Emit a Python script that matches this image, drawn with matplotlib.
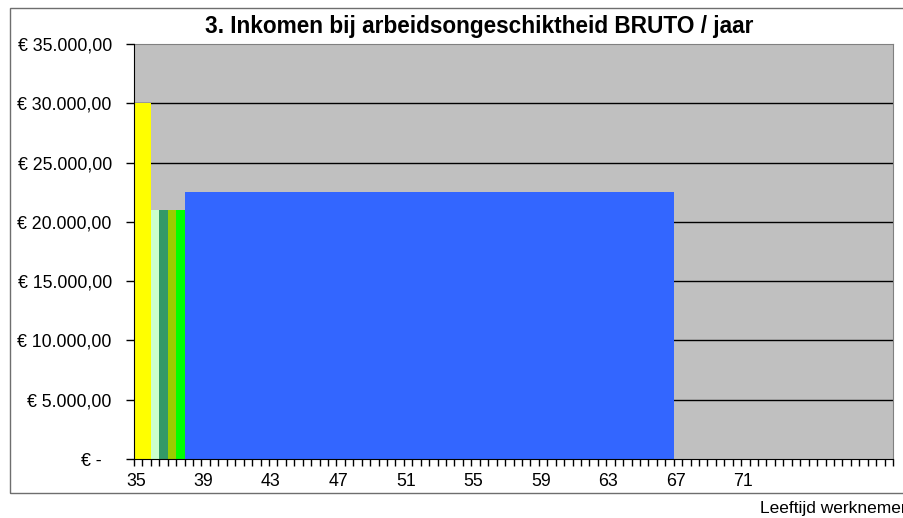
import numpy as np
import matplotlib.pyplot as plt
from matplotlib.patches import Rectangle

# age categories on the x axis (half years), labels every 4 years
age_first = 35
age_last = 80
label_ages = [35, 39, 43, 47, 51, 55, 59, 63, 67, 71]

# income periods: start age, end age, gross income per year
start_age = [35, 36, 36.5, 37, 37.5, 38]
end_age = [36, 36.5, 37, 37.5, 38, 67]
income = [30000, 21000, 21000, 21000, 21000, 22500]
bar_colors = ['#FFFF00', '#CCFFCC', '#339966', '#99CC00', '#00FF00', '#3366FF']

y_ticks = [0, 5000, 10000, 15000, 20000, 25000, 30000, 35000]

def euro(v):
    if v == 0:
        return '€ -  '
    s = f'{v:,.2f}'.replace(',', 'X').replace('.', ',').replace('X', '.')
    return '€ ' + s

plt.rcParams['font.family'] = ['Liberation Sans', 'DejaVu Sans']

fig = plt.figure(figsize=(9.04, 5.18), dpi=100)
W, H = 904, 518

# outer chart frame
fig.patches.append(Rectangle((9.5 / W, 1 - 492.5 / H), 1.2, (492.5 - 7.5) / H,
                             transform=fig.transFigure, fill=False,
                             edgecolor='#6e6e6e', linewidth=1))

ax = fig.add_axes([134 / W, 1 - 459 / H, 759 / W, 415 / H])
ax.set_facecolor('#C0C0C0')

widths = [e - s for s, e in zip(start_age, end_age)]
ax.bar(start_age, income, width=widths, align='edge', color=bar_colors,
       linewidth=0, zorder=3)

ax.set_xlim(age_first, age_last)
ax.set_ylim(0, 35000)

ax.set_yticks(y_ticks)
ax.set_yticklabels([euro(v) for v in y_ticks], fontsize=12.8)
ax.tick_params(axis='y', length=6, width=1, pad=10)
for v in y_ticks[1:-1]:
    ax.axhline(v, color='black', linewidth=1, zorder=2)

ax.set_xticks(np.arange(age_first, age_last + 0.01, 0.5))
ax.set_xticklabels([])
ax.tick_params(axis='x', which='major', length=5, width=1)
ax.set_xticks([a + 0.12 for a in label_ages], minor=True)
ax.set_xticklabels([str(a) for a in label_ages], minor=True, fontsize=12.8)
ax.tick_params(axis='x', which='minor', length=0, pad=10)

for side in ['top', 'right']:
    ax.spines[side].set_color('#808080')
for side in ['left', 'bottom']:
    ax.spines[side].set_color('black')
    ax.spines[side].set_zorder(4)

fig.text(479 / W, 1 - 26 / H, '3. Inkomen bij arbeidsongeschiktheid BRUTO / jaar',
         ha='center', va='center', fontsize=16.3, fontweight='bold')
fig.text(760 / W, 1 - 508 / H, 'Leeftijd werknemer', ha='left', va='center',
         fontsize=12.5)

fig.savefig('out.png', dpi=100)
